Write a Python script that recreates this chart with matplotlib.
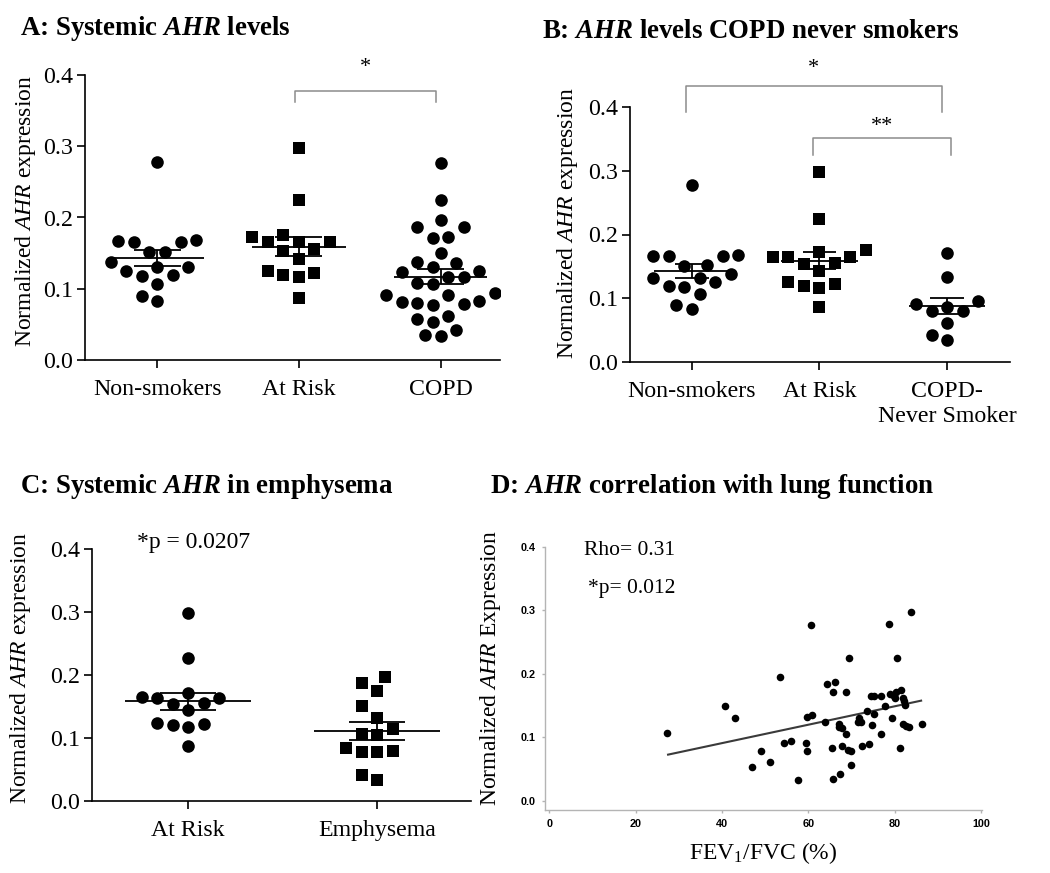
import numpy as np
import matplotlib
matplotlib.use('Agg')
import matplotlib.pyplot as plt

plt.rcParams['font.family'] = ['Liberation Serif', 'DejaVu Serif']
plt.rcParams['mathtext.fontset'] = 'custom'
plt.rcParams['mathtext.rm'] = 'Liberation Serif'
plt.rcParams['mathtext.it'] = 'Liberation Serif:italic'
plt.rcParams['mathtext.bf'] = 'Liberation Serif:bold'
plt.rcParams['mathtext.bfit'] = 'Liberation Serif:italic:bold'

# ---------------- data ----------------
cats_a = ['Non-smokers', 'At Risk', 'COPD']
cats_b = ['Non-smokers', 'At Risk', 'COPD-\nNever Smoker']
cats_c = ['At Risk', 'Emphysema']

nonsmokers = [0.278, 0.166, 0.166, 0.167, 0.168, 0.151, 0.152, 0.138, 0.131, 0.131,
              0.125, 0.120, 0.118, 0.106, 0.090, 0.083]
at_risk = [0.298, 0.225, 0.176, 0.172, 0.165, 0.165, 0.165, 0.156, 0.153, 0.142,
           0.125, 0.120, 0.116, 0.122, 0.087]
copd = [0.277, 0.225, 0.187, 0.186, 0.196, 0.173, 0.171, 0.150, 0.136, 0.137, 0.130,
        0.125, 0.123, 0.116, 0.116, 0.106, 0.108, 0.091, 0.094, 0.083, 0.091, 0.082,
        0.077, 0.078, 0.080, 0.058, 0.062, 0.054, 0.042, 0.034, 0.035]
copd_never = [0.1715, 0.134, 0.0957, 0.0915, 0.080, 0.086, 0.080, 0.061, 0.042, 0.035]
c_at_risk = [0.299, 0.227, 0.172, 0.163, 0.156, 0.163, 0.165, 0.154, 0.144, 0.124,
             0.120, 0.117, 0.122, 0.087]
emphysema = [0.197, 0.187, 0.174, 0.151, 0.131, 0.115, 0.105, 0.106, 0.084, 0.077,
             0.077, 0.079, 0.042, 0.033]

fev_ratio = [27.3, 40.7, 43.1, 46.9, 49.0, 51.2, 53.5, 54.3, 56.0, 57.5, 59.4, 59.7,
             59.7, 60.8, 60.6, 63.9, 64.3, 65.4, 65.6, 65.7, 66.2, 67.1, 67.1, 67.7,
             67.4, 67.7, 68.8, 68.8, 69.4, 69.1, 69.8, 69.8, 71.7, 71.5, 72.1, 72.3,
             73.5, 74.1, 74.4, 75.2, 74.8, 75.2, 76.8, 76.9, 77.8, 78.7, 78.9, 79.3,
             79.8, 80.1, 80.2, 80.5, 81.2, 81.4, 81.8, 82.1, 82.4, 81.9, 82.5, 83.3,
             83.8, 86.2]
ahr_expr = [0.107, 0.150, 0.130, 0.053, 0.078, 0.061, 0.195, 0.091, 0.094, 0.033,
            0.091, 0.078, 0.133, 0.135, 0.277, 0.124, 0.184, 0.083, 0.034, 0.171,
            0.187, 0.121, 0.116, 0.115, 0.042, 0.086, 0.106, 0.172, 0.225, 0.080,
            0.079, 0.057, 0.130, 0.124, 0.124, 0.087, 0.142, 0.089, 0.166, 0.165,
            0.120, 0.137, 0.165, 0.106, 0.150, 0.278, 0.168, 0.130, 0.166, 0.162,
            0.171, 0.225, 0.083, 0.175, 0.162, 0.157, 0.151, 0.121, 0.118, 0.116,
            0.298, 0.121]
fit_x = [27.5, 86.1]
fit_y = [0.073, 0.158]

# ---------------- helpers ----------------
W, H = 1050, 873
fig = plt.figure(figsize=(W / 100, H / 100), dpi=100)


def add_axes_px(left, top, right, bottom):
    return fig.add_axes([left / W, 1 - bottom / H, (right - left) / W, (bottom - top) / H])


def swarm(vals, diam, ppx, ppy):
    vals = np.asarray(vals, dtype=float)
    order = np.argsort(vals)
    step = diam / 2.0
    cands = [0.0]
    for k in range(1, 60):
        cands += [-k * step, k * step]
    placed = []
    offs = np.zeros(len(vals))
    for i in order:
        y = vals[i] * ppy
        for c in cands:
            if all((c - px) ** 2 + (y - py) ** 2 >= (diam * 0.98) ** 2 for px, py in placed):
                break
        placed.append((c, y))
        offs[i] = c / ppx
    return offs


def style_dot_axes(ax, cats, xlim, tick_fs=17.2):
    ax.set_xlim(*xlim)
    ax.set_ylim(0, 0.4)
    ax.set_yticks([0.0, 0.1, 0.2, 0.3, 0.4])
    ax.set_yticklabels(['0.0', '0.1', '0.2', '0.3', '0.4'])
    ax.set_xticks(range(len(cats)))
    ax.set_xticklabels(cats, linespacing=1.25)
    for s in ['top', 'right']:
        ax.spines[s].set_visible(False)
    for s in ['left', 'bottom']:
        ax.spines[s].set_linewidth(1.2)
    ax.tick_params(axis='both', direction='out', length=5.5, width=1.2, labelsize=tick_fs)
    ax.tick_params(axis='x', pad=8)
    ax.tick_params(axis='y', pad=3)


def dot_group(ax, pos, vals, marker, ppx, ppy, mhalf, shalf, ms):
    vals = np.asarray(vals, dtype=float)
    offs = swarm(vals, 15.5, ppx, ppy)
    ax.scatter(pos + offs, vals, marker=marker, s=ms, color='black', zorder=3, linewidths=0)
    m = vals.mean()
    sem = vals.std(ddof=1) / np.sqrt(len(vals))
    ax.hlines(m, pos - mhalf, pos + mhalf, color='black', lw=1.3, zorder=4)
    ax.hlines([m - sem, m + sem], pos - shalf, pos + shalf, color='black', lw=1.3, zorder=4)
    ax.vlines(pos, m - sem, m + sem, color='black', lw=1.3, zorder=4)


def bracket(ax, x1, x2, ytop, ybot, label, ylab, fs=16):
    ax.plot([x1, x1, x2, x2], [ybot, ytop, ytop, ybot], color='#8c8c8c', lw=1.1,
            clip_on=False, solid_joinstyle='round')
    ax.text((x1 + x2) / 2, ylab, label, ha='center', va='center', fontsize=fs, clip_on=False)


ylab_txt = r'Normalized $\mathit{AHR}$ expression'

# ---------------- Panel A ----------------
axA = add_axes_px(85, 75, 500, 360)
style_dot_axes(axA, cats_a, (-0.51, 2.42))
ppxA, ppyA = 141.5, 712.5
dot_group(axA, 0, nonsmokers, 'o', ppxA, ppyA, 0.33, 0.166, 82)
dot_group(axA, 1, at_risk, 's', ppxA, ppyA, 0.33, 0.166, 70)
dot_group(axA, 2, copd, 'o', ppxA, ppyA, 0.33, 0.166, 82)
bracket(axA, 0.97, 1.97, 0.3775, 0.362, '*', 0.410)
axA.set_ylabel(ylab_txt, fontsize=17)
axA.yaxis.set_label_coords(-0.113, 0.523)

# ---------------- Panel B ----------------
axB = add_axes_px(630, 107, 1010, 362)
style_dot_axes(axB, cats_b, (-0.486, 2.494))
ppxB, ppyB = 127.5, 637.5
dot_group(axB, 0, nonsmokers, 'o', ppxB, ppyB, 0.30, 0.13, 82)
dot_group(axB, 1, at_risk, 's', ppxB, ppyB, 0.30, 0.13, 70)
dot_group(axB, 2, copd_never, 'o', ppxB, ppyB, 0.30, 0.13, 82)
bracket(axB, -0.047, 1.96, 0.433, 0.392, '*', 0.460)
bracket(axB, 0.95, 2.03, 0.351, 0.325, '**', 0.369)
axB.set_ylabel(ylab_txt, fontsize=17)
axB.yaxis.set_label_coords(-0.132, 0.545)

# ---------------- Panel C ----------------
axC = add_axes_px(92, 549, 471, 801)
style_dot_axes(axC, cats_c, (-0.508, 1.497))
ppxC, ppyC = 189.0, 630.0
dot_group(axC, 0, c_at_risk, 'o', ppxC, ppyC, 0.335, 0.146, 82)
dot_group(axC, 1, emphysema, 's', ppxC, ppyC, 0.335, 0.146, 70)
axC.text(0.03, 0.411, '*p = 0.0207', ha='center', va='center', fontsize=17, clip_on=False)
axC.set_ylabel(ylab_txt, fontsize=17)
axC.yaxis.set_label_coords(-0.156, 0.528)

# ---------------- Panel D ----------------
axD = add_axes_px(545, 547, 982, 810)
axD.scatter(fev_ratio, ahr_expr, s=30, color='black', linewidths=0, zorder=3)
axD.plot(fit_x, fit_y, color='#3a3a3a', lw=1.5, zorder=2)
axD.set_xlim(-1.0, 100.2)
axD.set_ylim(-0.0142, 0.4)
axD.set_xticks([0, 20, 40, 60, 80, 100])
axD.set_yticks([0.0, 0.1, 0.2, 0.3, 0.4])
axD.set_yticklabels(['0.0', '0.1', '0.2', '0.3', '0.4'])
for s in ['top', 'right']:
    axD.spines[s].set_visible(False)
for s in ['left', 'bottom']:
    axD.spines[s].set_color('#b4b4b4')
    axD.spines[s].set_linewidth(1.0)
axD.tick_params(axis='both', direction='out', length=2.5, width=1.0, color='#b4b4b4',
                labelsize=7.8, pad=4)
for lab in axD.get_xticklabels() + axD.get_yticklabels():
    lab.set_family(['Liberation Sans', 'DejaVu Sans'])
    lab.set_fontweight('bold')
axD.text(8.1, 0.395, 'Rho= 0.31', ha='left', va='center', fontsize=15.5)
axD.text(8.9, 0.335, '*p= 0.012', ha='left', va='center', fontsize=15.5)
axD.set_ylabel(r'Normalized $\mathit{AHR}$ Expression', fontsize=17)
axD.yaxis.set_label_coords(-0.096, 0.54)
axD.set_xlabel(r'FEV$_{\mathregular{1}}$/FVC (%)', fontsize=17, labelpad=8)

# ---------------- titles ----------------
tfs = 19.4
fig.text(20 / W, 1 - 35 / H, r'A: Systemic $\mathbfit{AHR}$ levels', fontsize=tfs,
         fontweight='bold', ha='left', va='baseline')
fig.text(542 / W, 1 - 38 / H, r'B: $\mathbfit{AHR}$ levels COPD never smokers', fontsize=tfs,
         fontweight='bold', ha='left', va='baseline')
fig.text(20 / W, 1 - 493 / H, r'C: Systemic $\mathbfit{AHR}$ in emphysema', fontsize=tfs,
         fontweight='bold', ha='left', va='baseline')
fig.text(490 / W, 1 - 493 / H, r'D: $\mathbfit{AHR}$ correlation with lung function', fontsize=tfs,
         fontweight='bold', ha='left', va='baseline')

fig.savefig('out.png', dpi=100)
